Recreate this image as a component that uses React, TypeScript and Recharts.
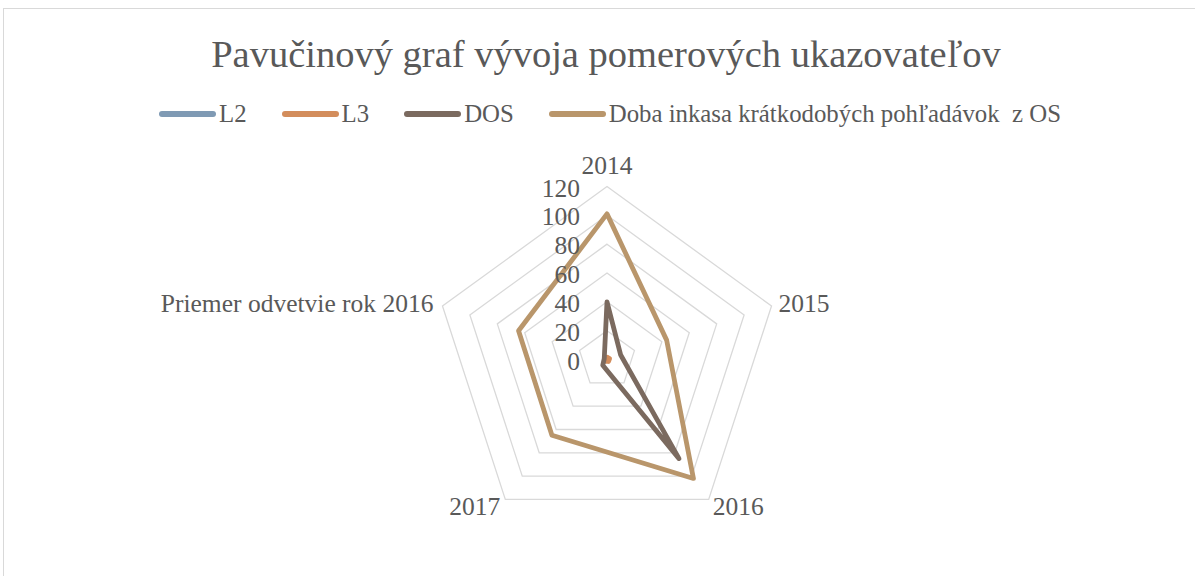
import React from "react";
import {
  RadarChart,
  Radar,
  PolarGrid,
  PolarAngleAxis,
  PolarRadiusAxis,
  Legend,
} from "recharts";

const categories = ["2014", "2015", "2016", "2017", "Priemer odvetvie rok 2016"];
const l2 = [1.1, 1.3, 1.2, 1.0, 1.4];
const l3 = [1.6, 1.9, 1.7, 1.5, 1.8];
const dos = [40, 10, 85, 5, 2];
const dobaInkasa = [101, 43.5, 102, 65, 64.5];
const radiusDomain = [0, 120];

const SERIES = [
  { key: "l2", name: "L2", color: "#7f9ab4" },
  { key: "l3", name: "L3", color: "#d38d5c" },
  { key: "dos", name: "DOS", color: "#7b6a5f" },
  { key: "doba", name: "Doba inkasa krátkodobých pohľadávok  z OS", color: "#b9966b" },
];

const data = categories.map((category, i) => ({
  category,
  l2: l2[i],
  l3: l3[i],
  dos: dos[i],
  doba: dobaInkasa[i],
}));

const CX = 607;
const CY = 359.5;
const R = 173;
const FONT = '"Liberation Serif", serif';
const TEXT = "#595959";

function AngleTick(props: any) {
  const { x, y, payload } = props;
  const dx = x - CX;
  const dy = y - CY;
  const len = Math.sqrt(dx * dx + dy * dy) || 1;
  const ux = dx / len;
  const uy = dy / len;
  const vx = CX + ux * R;
  const vy = CY + uy * R;
  let tx = vx;
  let ty = vy;
  let anchor: "start" | "middle" | "end" = "middle";
  if (Math.abs(ux) < 0.1) {
    ty = vy - 21;
  } else if (ux > 0) {
    anchor = "start";
    tx = vx + (uy > 0 ? 4 : 7);
    ty = vy + (uy > 0 ? 7 : -3);
  } else {
    anchor = "end";
    tx = vx - (uy > 0 ? 5 : 9);
    ty = vy + (uy > 0 ? 7 : -3);
  }
  return (
    <text
      x={tx}
      y={ty}
      textAnchor={anchor}
      dominantBaseline="central"
      fill={TEXT}
      fontFamily={FONT}
      fontSize={25.5}
    >
      {payload.value}
    </text>
  );
}

function RadiusTick(props: any) {
  const { x, y, payload } = props;
  return (
    <text
      x={x - 27}
      y={y + 1.5}
      textAnchor="end"
      dominantBaseline="central"
      fill={TEXT}
      fontFamily={FONT}
      fontSize={25.5}
    >
      {payload.value}
    </text>
  );
}

function LegendContent() {
  return (
    <div
      style={{
        display: "flex",
        justifyContent: "center",
        alignItems: "center",
        fontFamily: FONT,
        fontSize: 24.8,
        color: TEXT,
        whiteSpace: "pre",
      }}
    >
      {SERIES.map((s, i) => (
        <div
          key={s.key}
          style={{ display: "flex", alignItems: "center", marginLeft: i === 0 ? 0 : 35 }}
        >
          <svg width={57} height={10} style={{ marginRight: 3 }}>
            <line
              x1={3}
              y1={5}
              x2={54}
              y2={5}
              stroke={s.color}
              strokeWidth={6}
              strokeLinecap="round"
            />
          </svg>
          <span>{s.name}</span>
        </div>
      ))}
    </div>
  );
}

export default function App() {
  return (
    <div
      style={{
        position: "fixed",
        left: 0,
        top: 0,
        width: 1195,
        height: 576,
        overflow: "hidden",
        background: "#fff",
      }}
    >
      <div
        style={{
          position: "absolute",
          left: 3,
          top: 8,
          width: 1300,
          height: 700,
          border: "1px solid #d9d9d9",
        }}
      />
      <div
        style={{
          position: "absolute",
          left: 0,
          top: 32,
          width: 1212,
          textAlign: "center",
          fontFamily: FONT,
          fontSize: 38.5,
          color: TEXT,
        }}
      >
        Pavučinový graf vývoja pomerových ukazovateľov
      </div>
      <div style={{ position: "absolute", left: 0, top: 0 }}>
        <RadarChart
          width={1195}
          height={576}
          data={data}
          cx={CX}
          cy={CY}
          outerRadius={R}
          margin={{ top: 0, right: 0, bottom: 0, left: 0 }}
        >
          <PolarGrid gridType="polygon" radialLines={false} stroke="#d9d9d9" strokeWidth={1.3} />
          <PolarAngleAxis
            dataKey="category"
            tick={AngleTick}
            tickLine={false}
            axisLine={false}
          />
          <PolarRadiusAxis
            angle={90}
            domain={radiusDomain}
            tickCount={7}
            axisLine={false}
            tickLine={false}
            tick={RadiusTick}
          />
          {SERIES.map((s) => (
            <Radar
              key={s.key}
              dataKey={s.key}
              name={s.name}
              stroke={s.color}
              strokeWidth={4.8}
              strokeLinejoin="round"
              fill="none"
              fillOpacity={0}
              dot={false}
              isAnimationActive={false}
            />
          ))}
          <Legend
            content={LegendContent}
            wrapperStyle={{ position: "absolute", top: 100, left: 0, width: 1220 }}
          />
        </RadarChart>
      </div>
    </div>
  );
}
